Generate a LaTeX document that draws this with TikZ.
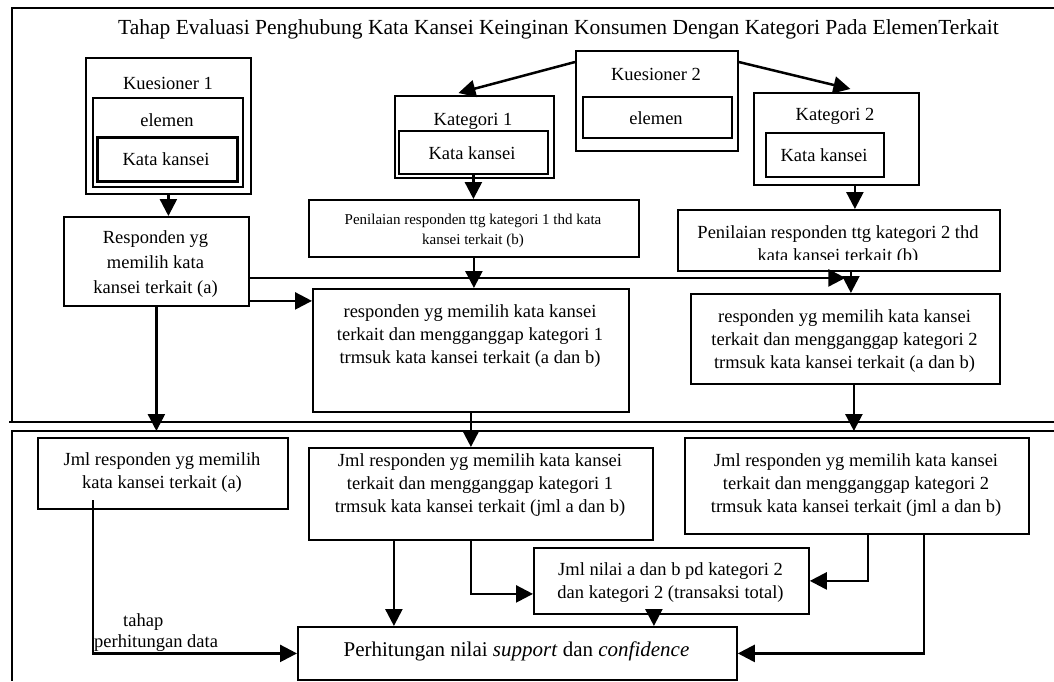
\documentclass[tikz,border=0pt]{standalone}
\usepackage{fontspec}
\setmainfont{Liberation Serif}
\usetikzlibrary{arrows.meta}
\newcommand\myfs[2]{\fontsize{#1}{#2}\selectfont}
\begin{document}
\begin{tikzpicture}[x=1pt,y=-1pt,
  box/.style={draw, line width=1.8pt, inner sep=0pt, anchor=north west},
  txt/.style={inner sep=0pt, align=center, font=\myfs{18.5}{23}},
  arr/.style={line width=2.5pt, -{Triangle[length=17pt,width=17pt]}},
  ln/.style={line width=1.8pt}]
\useasboundingbox[fill=white] (0,0) rectangle (1054,681);
% frames
\draw[ln] (1054,8) -- (12,8) -- (12,422);
\draw[ln] (9,422) -- (1054,422);
\draw[ln] (1054,431) -- (12,431) -- (12,681);
\coordinate (lowtop) at (0,431);
% title
\node[inner sep=0pt, font=\myfs{21.5}{24}, anchor=base] (title) at (558.5,34)
  {Tahap Evaluasi Penghubung Kata Kansei Keinginan Konsumen Dengan Kategori Pada ElemenTerkait};
% Kuesioner 1
\node[box, minimum width=165pt, minimum height=136pt] (K1) at (85,57) {};
\node[box, minimum width=150pt, minimum height=89pt] (K1e) at (92,97) {};
\node[box, line width=2.6pt, minimum width=140pt, minimum height=44pt] (K1k) at (96,136) {};
\node[txt] (tK1) at (168,83) {Kuesioner 1};
\node[txt] (tK1e) at (167,120) {elemen};
\node[txt] (tK1k) at (166,159) {Kata kansei};
% Kuesioner 2
\node[box, minimum width=162pt, minimum height=100pt] (K2) at (575,50) {};
\node[box, minimum width=149pt, minimum height=41pt] (K2e) at (582,96) {};
\node[txt] (tK2) at (656,74) {Kuesioner 2};
\node[txt] (tK2e) at (656,118) {elemen};
% Kategori 1
\node[box, minimum width=159pt, minimum height=82pt] (Kat1) at (394,95) {};
\node[box, minimum width=149pt, minimum height=43pt] (Kat1k) at (398,130) {};
\node[txt] (tKat1) at (473,121) {Kategori 1};
\node[txt] (tKat1k) at (472,153) {Kata kansei};
% Kategori 2
\node[box, minimum width=165pt, minimum height=92pt] (Kat2) at (753,92) {};
\node[box, minimum width=118pt, minimum height=44pt] (Kat2k) at (765,132) {};
\node[txt] (tKat2) at (835,116) {Kategori 2};
\node[txt] (tKat2k) at (824,155) {Kata kansei};
% Penilaian
\node[box, minimum width=330pt, minimum height=57pt] (Pen1) at (308,199) {};
\node[txt, font=\myfs{15}{20}] (tPen1) at (473,231)
  {Penilaian responden ttg kategori 1 thd kata\\kansei terkait (b)};
\node[box, minimum width=322pt, minimum height=61pt] (Pen2) at (677,209) {};
\begin{scope}
\clip (677,209) rectangle (999,259);
\node[txt] (tPen2) at (838,246)
  {Penilaian responden ttg kategori 2 thd\\kata kansei terkait (b)};
\end{scope}
% Responden
\node[box, minimum width=185pt, minimum height=89pt] (Resp) at (63,216) {};
\node[txt, font=\myfs{18.5}{25}] (tResp) at (155.5,264)
  {Responden yg\\memilih kata\\kansei terkait (a)};
\node[box, minimum width=316pt, minimum height=123pt] (Resp1) at (312,288) {};
\node[txt] (tResp1) at (470,336)
  {responden yg memilih kata kansei\\terkait dan mengganggap kategori 1\\trmsuk kata kansei terkait (a dan b)};
\node[box, minimum width=309pt, minimum height=90pt] (Resp2) at (690,293) {};
\node[txt] (tResp2) at (844.5,341)
  {responden yg memilih kata kansei\\terkait dan mengganggap kategori 2\\trmsuk kata kansei terkait (a dan b)};
% lower part
\node[box, minimum width=250pt, minimum height=71pt] (JmlA) at (37,437) {};
\node[txt] (tJmlA) at (162,473)
  {Jml responden yg memilih\\kata kansei terkait (a)};
\node[box, minimum width=344pt, minimum height=92pt] (Jml1) at (308,447) {};
\node[txt] (tJml1) at (480,485)
  {Jml responden yg memilih kata kansei\\terkait dan mengganggap kategori 1\\trmsuk kata kansei terkait (jml a dan b)};
\node[box, minimum width=344pt, minimum height=96pt] (Jml2) at (684,437) {};
\node[txt] (tJml2) at (856,485)
  {Jml responden yg memilih kata kansei\\terkait dan mengganggap kategori 2\\trmsuk kata kansei terkait (jml a dan b)};
\node[box, minimum width=275pt, minimum height=66pt] (JN) at (533,547) {};
\node[txt] (tJN) at (670.5,583)
  {Jml nilai a dan b pd kategori 2\\dan kategori 2 (transaksi total)};
\node[box, minimum width=439pt, minimum height=53pt] (Perh) at (297,626) {};
\node[txt, font=\myfs{21}{25}] (tPerh) at (516.5,651)
  {Perhitungan nilai \textit{support} dan \textit{confidence}};
\node[inner sep=0pt, align=left, anchor=west, font=\myfs{18.5}{21}] (lab) at (94,633)
  {\hspace*{29pt}tahap\\perhitungan data};
% connectors
\draw[arr] (K1.south) -- (K1.south |- Resp.north);
\draw[arr] ([yshift=-12pt]K2.north west) -- ([xshift=-16pt,yshift=2pt]Kat1.north);
\draw[arr] ([yshift=-12pt]K2.north east) -- ([xshift=14pt,yshift=3pt]Kat2.north);
\draw[arr] (Kat1k.south) -- (Kat1k.south |- Pen1.north);
\coordinate (p2a) at ([xshift=16pt]Pen2.north);
\draw[arr] (p2a |- Kat2.south) -- (p2a);
\draw[arr] (Pen1.south) -- (Pen1.south |- Resp1.north);
\coordinate (h1) at ([yshift=-16.5pt]Resp.east);
\draw[arr] (h1) -- (h1 -| Resp2.north);
\coordinate (p2b) at ([xshift=12pt]Pen2.south);
\draw[arr] (p2b) -- (p2b |- Resp2.north);
\coordinate (h2) at ([yshift=-39.5pt]Resp.east);
\draw[arr] (h2) -- (h2 -| Resp1.west);
\draw[arr] (Resp.south) -- (Resp.south |- lowtop);
\draw[arr] (Resp1.south) -- (Resp1.south |- Jml1.north);
\coordinate (r2b) at ([xshift=8.5pt]Resp2.south);
\draw[arr] (r2b) -- (r2b |- lowtop);
\coordinate (a1) at (93,500);
\draw[arr] (a1) |- (Perh.west);
\coordinate (j1a) at ([xshift=-87pt]Jml1.south);
\draw[arr] (j1a) -- (j1a |- Perh.north);
\coordinate (j1b) at ([xshift=-10pt]Jml1.south);
\draw[arr] (j1b) |- ([yshift=-13pt]JN.west);
\coordinate (jnb) at ([xshift=-17.5pt]JN.south);
\draw[arr] (jnb) -- (jnb |- Perh.north);
\coordinate (j2a) at ([xshift=11pt]Jml2.south);
\draw[arr] (j2a) |- (JN.east);
\coordinate (j2b) at ([xshift=67pt]Jml2.south);
\draw[arr] (j2b) |- (Perh.east);
\end{tikzpicture}
\end{document}
